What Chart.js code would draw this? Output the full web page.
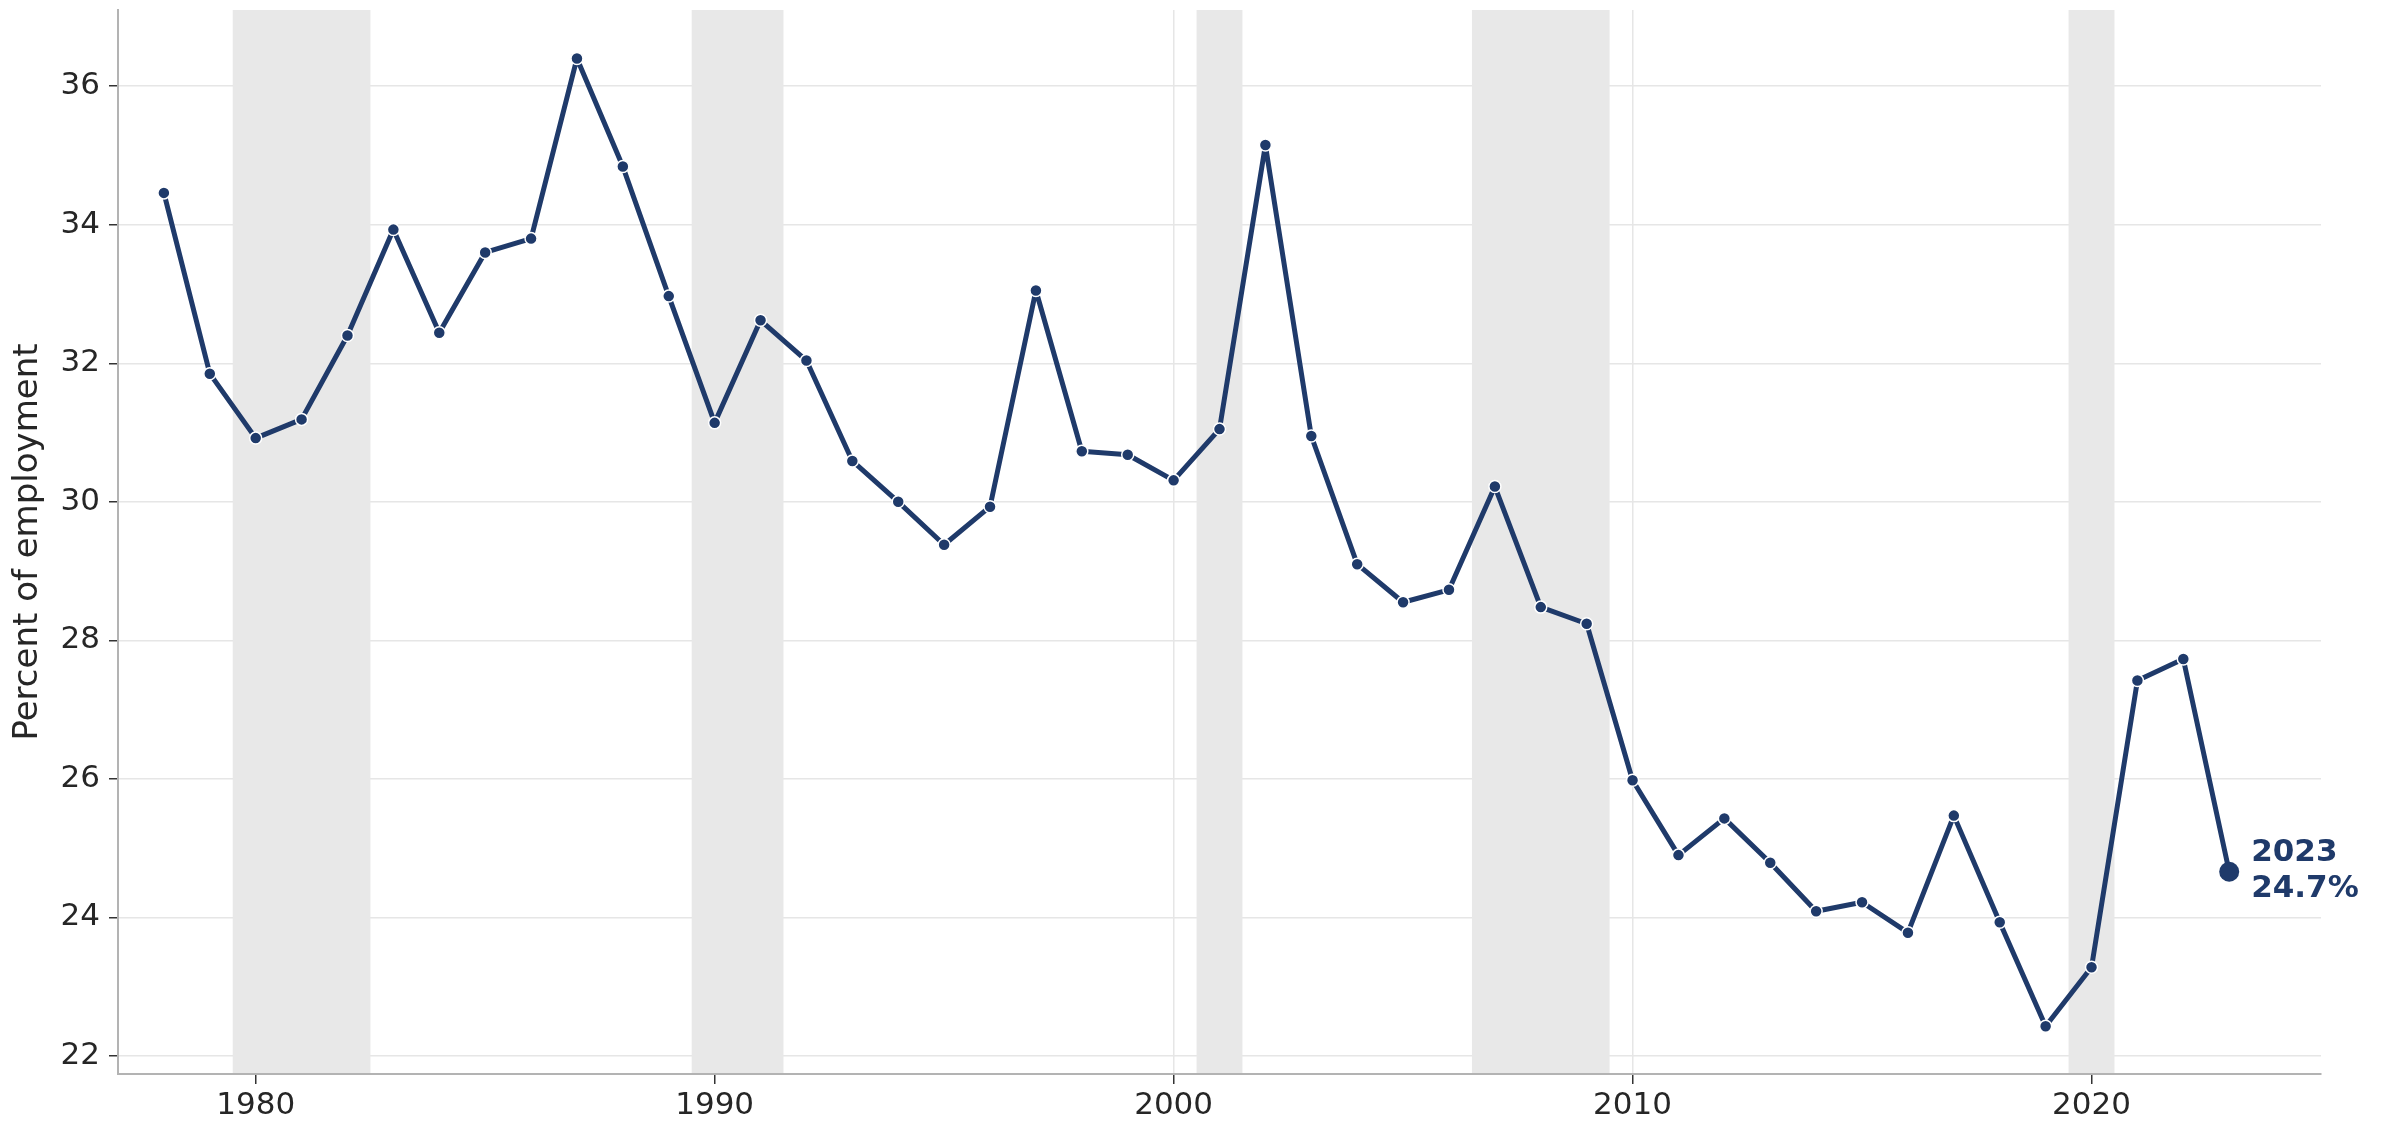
<!DOCTYPE html>
<html>
<head>
<meta charset="utf-8">
<script src="https://cdn.jsdelivr.net/npm/chart.js@4.4.0/dist/chart.umd.min.js"></script>
<style>
  body { margin: 0; background: #ffffff; }
  #wrap { width: 2389px; height: 1125px; }
</style>
</head>
<body>
<div id="wrap"><canvas id="myChart" width="2389" height="1125"></canvas></div>
<script>
// DATA
const years = [
  1978, 1979, 1980, 1981, 1982, 1983, 1984, 1985, 1986, 1987, 1988, 1989,
  1990, 1991, 1992, 1993, 1994, 1995, 1996, 1997, 1998, 1999, 2000, 2001,
  2002, 2003, 2004, 2005, 2006, 2007, 2008, 2009, 2010, 2011, 2012, 2013,
  2014, 2015, 2016, 2017, 2018, 2019, 2020, 2021, 2022, 2023,
];
const percents = [
  34.46, 31.85, 30.92, 31.19, 32.40, 33.93, 32.44, 33.60, 33.80, 36.40, 34.84, 32.97,
  31.14, 32.62, 32.04, 30.59, 30.00, 29.38, 29.93, 33.05, 30.73, 30.68, 30.31, 31.05,
  35.15, 30.95, 29.10, 28.55, 28.73, 30.22, 28.48, 28.24, 25.98, 24.90, 25.43, 24.79,
  24.09, 24.22, 23.78, 25.47, 23.93, 22.43, 23.28, 27.42, 27.73, 24.66,
];
const yTicks = [22, 24, 26, 28, 30, 32, 34, 36];
const xTicks = [1980, 1990, 2000, 2010, 2020];
// recession bands (start, end)
const bandStarts = [1979.5, 1989.5, 2000.5, 2006.5, 2019.5];
const bandEnds = [1982.5, 1991.5, 2001.5, 2009.5, 2020.5];
const lastLabel = ["2023", "24.7%"];

const NAVY = "#1f3a6a";
const FONT = "DejaVu Sans";

// PLUGINS
const recessions = {
  id: "recessions",
  beforeDatasetsDraw(chart) {
    const { ctx, chartArea: { top, bottom }, scales: { x } } = chart;
    ctx.save();
    ctx.fillStyle = "#e8e8e8";
    bandStarts.forEach((s, i) => {
      const x0 = x.getPixelForValue(s);
      const x1 = x.getPixelForValue(bandEnds[i]);
      ctx.fillRect(x0, top, x1 - x0, bottom - top - 1);
    });
    ctx.restore();
  },
};

const endLabel = {
  id: "endLabel",
  afterDatasetsDraw(chart) {
    const { ctx } = chart;
    const pt = chart.getDatasetMeta(0).data[percents.length - 1];
    ctx.save();
    ctx.font = "bold 31px " + FONT;
    ctx.fillStyle = NAVY;
    ctx.textAlign = "left";
    ctx.textBaseline = "alphabetic";
    ctx.fillText(lastLabel[0], pt.x + 22, pt.y - 11);
    ctx.fillText(lastLabel[1], pt.x + 22, pt.y + 25);
    ctx.restore();
  },
};

const noPad = (scale) => {
  scale.paddingTop = 0;
  scale.paddingBottom = 0;
  scale.paddingLeft = 0;
  scale.paddingRight = 0;
};

const radii = percents.map((v, i) => (i === percents.length - 1 ? 10 : 6));
const borders = percents.map((v, i) => (i === percents.length - 1 ? 0 : 1.5));

new Chart(document.getElementById("myChart"), {
  type: "line",
  data: {
    datasets: [
      {
        label: "Percent of employment",
        data: years.map((y, i) => ({ x: y, y: percents[i] })),
        borderColor: NAVY,
        borderWidth: 5,
        borderJoinStyle: "round",
        borderCapStyle: "round",
        pointRadius: radii,
        pointBorderWidth: borders,
        pointBackgroundColor: NAVY,
        pointBorderColor: "#ffffff",
        tension: 0,
        fill: false,
      },
    ],
  },
  options: {
    responsive: false,
    animation: false,
    layout: { padding: { top: 8, right: 68, left: 0, bottom: 0 } },
    plugins: {
      legend: { display: false },
      tooltip: { enabled: false },
    },
    scales: {
      x: {
        type: "linear",
        min: 1977,
        max: 2025,
        afterBuildTicks(scale) {
          scale.ticks = xTicks.map((v) => ({ value: v }));
        },
        afterFit(scale) {
          scale.height = 51;
          noPad(scale);
        },
        grid: {
          color: "#e6e6e6",
          lineWidth: 1.5,
          tickColor: "#333333",
          tickLength: 10,
        },
        border: { color: "#b3b3b3", width: 2 },
        ticks: {
          font: { family: FONT, size: 31 },
          color: "#262626",
          padding: 3,
          maxRotation: 0,
          callback: (v) => String(v),
        },
      },
      y: {
        min: 21.74,
        max: 37.1,
        afterBuildTicks(scale) {
          scale.ticks = yTicks.map((v) => ({ value: v }));
        },
        afterFit(scale) {
          scale.width = 118;
          noPad(scale);
        },
        grid: {
          color: "#e6e6e6",
          lineWidth: 1.5,
          tickColor: "#333333",
          tickLength: 9,
        },
        border: { color: "#b3b3b3", width: 2 },
        ticks: {
          font: { family: FONT, size: 31 },
          color: "#262626",
          padding: 9,
        },
        title: {
          display: true,
          text: "Percent of employment",
          font: { family: FONT, size: 34 },
          color: "#262626",
          padding: { top: 8, bottom: 0 },
        },
      },
    },
  },
  plugins: [recessions, endLabel],
});
</script>
</body>
</html>
